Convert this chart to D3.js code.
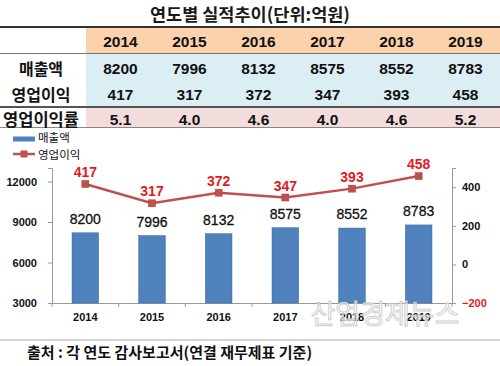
<!DOCTYPE html>
<html><head><meta charset="utf-8">
<script src="https://cdn.jsdelivr.net/npm/d3@7"></script>
<style>body{margin:0;background:#fff}svg{display:block}text{font-family:"Noto Sans CJK KR","Liberation Sans",sans-serif}</style>
</head><body><svg id="c" width="500" height="366"></svg>
<script>
const years = ["2014","2015","2016","2017","2018","2019"];
const sales = [8200,7996,8132,8575,8552,8783];
const profit = [417,317,372,347,393,458];
const margin = ["5.1","4.0","4.6","4.0","4.6","5.2"];
const leftTicks = [3000,6000,9000,12000];
const rightTicks = [-200,0,200,400];
const title = "연도별 실적추이(단위:억원)";
const source = "출처 : 각 연도 감사보고서(연결 재무제표 기준)";

const svg = d3.select("#c");
const F = '"Noto Sans CJK KR",sans-serif';
const A = '"Liberation Sans",Arial,sans-serif';

// title
svg.append("text").attr("x",250).attr("y",21).attr("text-anchor","middle")
  .attr("font-size",17.5).attr("font-weight","bold").attr("fill","#1a1a1a").style("font-family",F).text(title);

// table
const col = d3.scaleBand().domain(years).range([86,500]);
svg.append("rect").attr("x",86).attr("y",28).attr("width",414).attr("height",25).attr("fill","#fbd2ab");
svg.append("rect").attr("x",86).attr("y",54).attr("width",414).attr("height",52).attr("fill","#dbeef4");
svg.append("rect").attr("x",86).attr("y",108).attr("width",414).attr("height",19).attr("fill","#f2dcdc");
[[27,2,"#333"],[53.5,1,"#777"],[107,2,"#555"],[127.5,1,"#888"]].forEach(([y,w,c])=>
  svg.append("line").attr("x1",0).attr("x2",500).attr("y1",y).attr("y2",y).attr("stroke",c).attr("stroke-width",w));

const rows = [
  {label:null, vals:years, y:47},
  {label:"매출액", vals:sales, y:74},
  {label:"영업이익", vals:profit, y:100},
  {label:"영업이익률", vals:margin, y:125}
];
rows.forEach((r,i)=>{
  if(r.label) svg.append("text").attr("x",41).attr("y",r.y+0.5).attr("text-anchor","middle")
    .attr("font-size",i===3?16.5:16).attr("font-weight","bold").attr("fill","#111").style("font-family",F).text(r.label);
  svg.selectAll(null).data(r.vals).enter().append("text")
    .attr("x",(d,j)=>col(years[j])+col.bandwidth()/2).attr("y",r.y).attr("text-anchor","middle")
    .attr("font-size",15.5).attr("font-weight","bold").attr("fill","#111").style("font-family",A).text(d=>d);
});

// chart
const x = d3.scaleBand().domain(years).range([52,452]).paddingInner(0.6).paddingOuter(0.3);
const yL = d3.scaleLinear().domain([3000,13000]).range([303,168]);
const yR = d3.scaleLinear().domain([-200,500]).range([303,168]);

svg.append("g").attr("transform","translate(52,0)")
  .call(d3.axisLeft(yL).tickValues(leftTicks).tickSize(4).tickFormat(d3.format("d")))
  .call(g=>{g.select(".domain").attr("stroke","#999");g.selectAll(".tick line").attr("stroke","#999");
    g.selectAll("text").attr("x",-15).attr("font-size",11).attr("font-weight","bold").attr("fill","#111").style("font-family",A);});
svg.append("g").attr("transform","translate(452,0)")
  .call(d3.axisRight(yR).tickValues(rightTicks).tickSize(4))
  .call(g=>{g.select(".domain").attr("stroke","#999");g.selectAll(".tick line").attr("stroke","#999");
    g.selectAll("text").attr("x",10).attr("font-size",11).attr("font-weight","bold")
      .attr("fill",d=>d<0?"#e31a1c":"#111").style("font-family",A);});
svg.append("g").attr("transform","translate(0,303)")
  .call(d3.axisBottom(x).tickSize(4).tickSizeOuter(0))
  .call(g=>{g.select(".domain").attr("stroke","#999");g.selectAll(".tick line").remove();
    g.selectAll("text").attr("y",10).attr("font-size",11).attr("font-weight","bold").attr("fill","#111").style("font-family",A);});
svg.selectAll(null).data(d3.range(7)).enter().append("line")
  .attr("x1",i=>52+i*400/6).attr("x2",i=>52+i*400/6).attr("y1",303).attr("y2",307).attr("stroke","#999");

svg.selectAll(".bar").data(sales).enter().append("rect").attr("class","bar")
  .attr("x",(d,i)=>x(years[i])).attr("y",d=>yL(d)).attr("width",x.bandwidth()).attr("height",d=>303-yL(d))
  .attr("fill","#4f81bd").attr("stroke","#3d6aa0").attr("stroke-width",0.5);
svg.selectAll(".bl").data(sales).enter().append("text")
  .attr("x",(d,i)=>x(years[i])+x.bandwidth()/2).attr("y",d=>yL(d)-9).attr("text-anchor","middle")
  .attr("font-size",14).attr("fill","#111").attr("stroke","#111").attr("stroke-width",0.3).style("font-family",A).text(d=>d);

const line = d3.line().x((d,i)=>x(years[i])+x.bandwidth()/2).y(d=>yR(d));
svg.append("path").datum(profit).attr("d",line).attr("fill","none").attr("stroke","#c0504d").attr("stroke-width",2.5);
svg.selectAll(".mk").data(profit).enter().append("rect")
  .attr("x",(d,i)=>x(years[i])+x.bandwidth()/2-3.5).attr("y",d=>yR(d)-3.5).attr("width",7).attr("height",7)
  .attr("fill","#c0504d").attr("stroke","#a33e3b").attr("stroke-width",0.5);
svg.selectAll(".pl").data(profit).enter().append("text")
  .attr("x",(d,i)=>x(years[i])+x.bandwidth()/2).attr("y",d=>yR(d)-7).attr("text-anchor","middle")
  .attr("font-size",14).attr("font-weight","bold").attr("fill","#e31a1c").style("font-family",A).text(d=>d);

// legend
svg.append("rect").attr("x",13).attr("y",136.5).attr("width",22).attr("height",5).attr("fill","#4f81bd");
svg.append("text").attr("x",38).attr("y",142).attr("font-size",11.5).attr("fill","#111").style("font-family",F).text("매출액");
svg.append("line").attr("x1",13).attr("x2",35).attr("y1",154).attr("y2",154).attr("stroke","#c0504d").attr("stroke-width",2.5);
svg.append("rect").attr("x",20.5).attr("y",150.5).attr("width",7).attr("height",7).attr("fill","#c0504d");
svg.append("text").attr("x",38).attr("y",159).attr("font-size",11.5).attr("fill","#111").style("font-family",F).text("영업이익");

// watermark
svg.append("text").attr("x",385).attr("y",324).attr("text-anchor","middle").attr("font-size",27)
  .attr("fill","rgba(255,255,255,0.5)").attr("stroke","#cfcfcf").attr("stroke-width",1).style("font-family",F).text("산업경제뉴스");

// bottom
svg.append("line").attr("x1",0).attr("x2",500).attr("y1",340).attr("y2",340).attr("stroke","#aaa").attr("stroke-width",1);
svg.append("text").attr("x",27).attr("y",358).attr("font-size",15).attr("font-weight","bold").attr("fill","#111").style("font-family",F).text(source);
</script></body></html>
